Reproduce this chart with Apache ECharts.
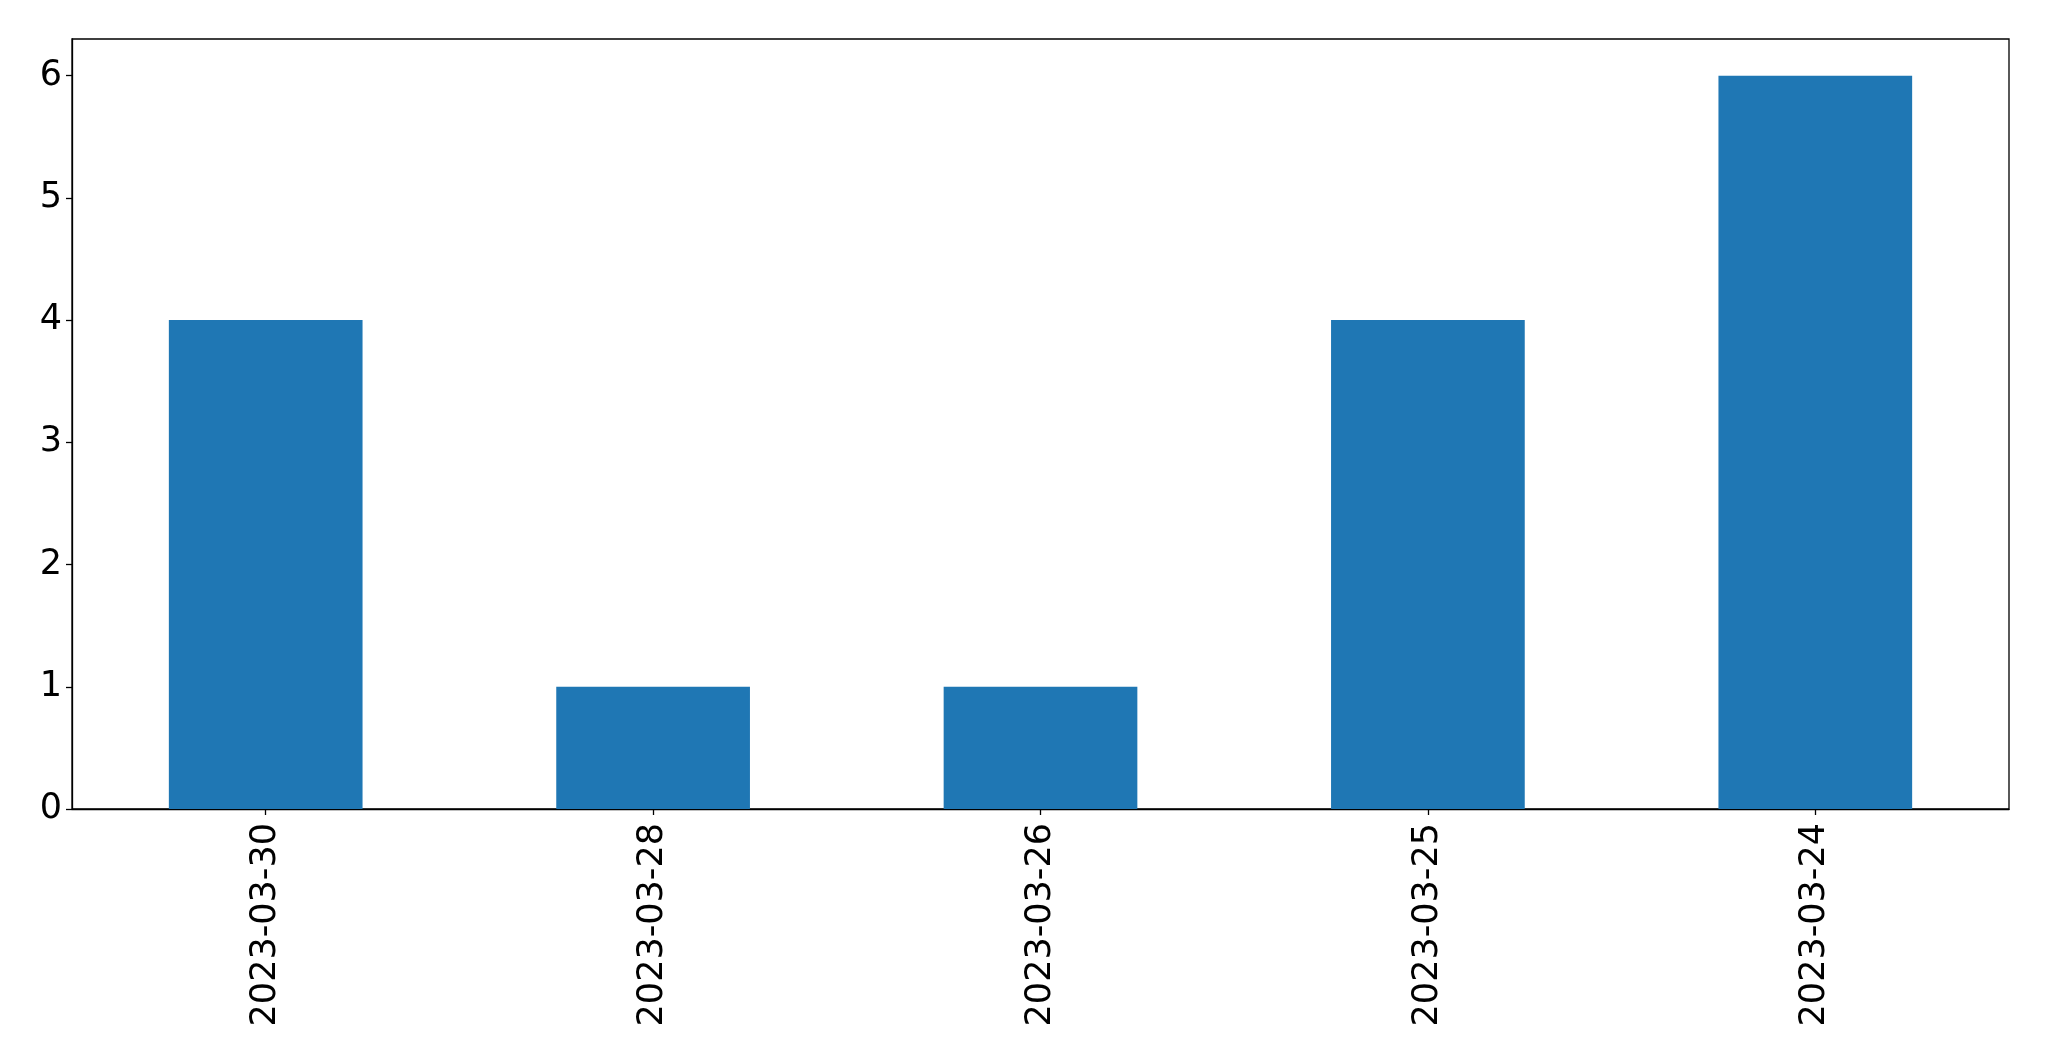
<!DOCTYPE html>
<html>
<head>
<meta charset="utf-8">
<script src="https://cdn.jsdelivr.net/npm/echarts@6/dist/echarts.min.js"></script>
<style>
html,body{margin:0;padding:0;background:#fff;}
#c{width:2049px;height:1061px;}
</style>
</head>
<body>
<div id="c"></div>
<script>
const categories = ["2023-03-30", "2023-03-28", "2023-03-26", "2023-03-25", "2023-03-24"];
const values = [4, 1, 1, 4, 6];
const yTicks = [0, 1, 2, 3, 4, 5, 6];

const chart = echarts.init(document.getElementById('c'), null, {renderer: 'canvas'});
chart.setOption({
  animation: false,
  backgroundColor: '#fff',
  textStyle: {fontFamily: 'DejaVu Sans'},
  grid: {left: 72, top: 39, right: 40, bottom: 252, show: true, borderColor: '#000', borderWidth: 1.3, backgroundColor: 'transparent'},
  xAxis: {
    type: 'category',
    data: categories,
    axisLine: {show: true, lineStyle: {color: '#000', width: 1.3}},
    axisTick: {show: true, alignWithLabel: true, length: 6, lineStyle: {color: '#000', width: 1.3}},
    axisLabel: {rotate: 90, fontSize: 35, color: '#000', margin: 14, fontFamily: 'DejaVu Sans'},
    splitLine: {show: false}
  },
  yAxis: {
    type: 'value',
    min: 0,
    max: 6.3,
    interval: 1,
    axisLine: {show: true, lineStyle: {color: '#000', width: 1.3}},
    axisTick: {show: true, length: 6, lineStyle: {color: '#000', width: 1.3}, customValues: yTicks},
    axisLabel: {fontSize: 35, color: '#000', margin: 10, padding: [8, 0, 0, 0], fontFamily: 'DejaVu Sans', customValues: yTicks},
    splitLine: {show: false}
  },
  series: [{
    type: 'bar',
    data: values,
    barWidth: '50%',
    itemStyle: {color: '#1f77b4'}
  }]
});
</script>
</body>
</html>
